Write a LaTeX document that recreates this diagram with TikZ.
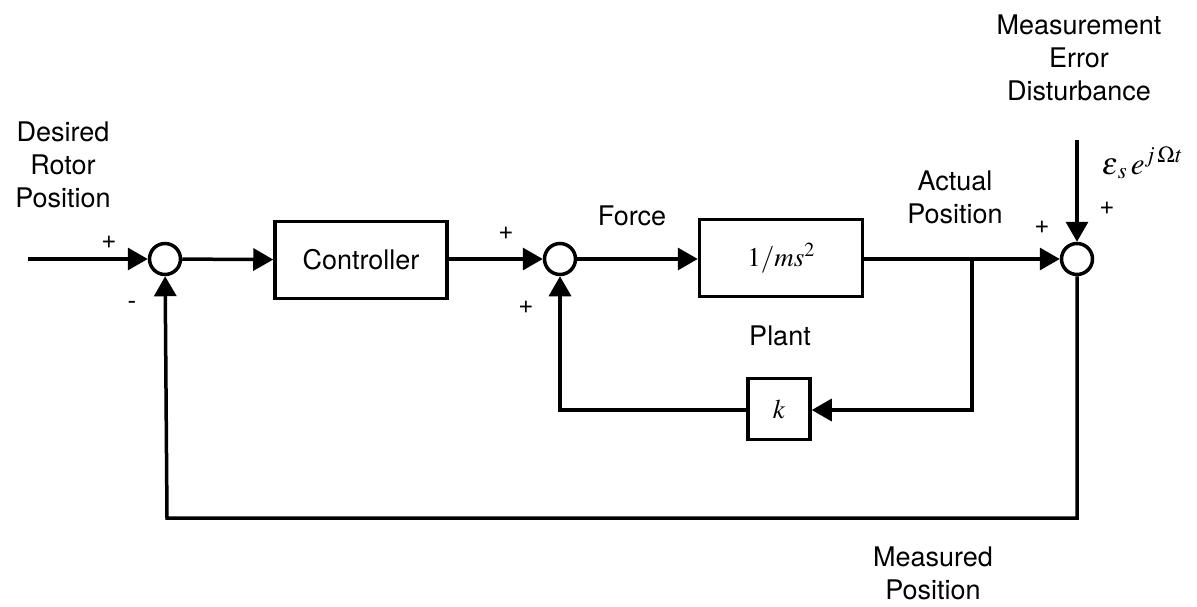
\documentclass[tikz,border=0pt]{standalone}
\usepackage{mathptmx}
\usepackage{fontspec}
\setmainfont{TeX Gyre Heros}
\usetikzlibrary{arrows.meta}
\begin{document}
\begin{tikzpicture}[x=1pt,y=-1pt,
  line width=3.5pt,
  lbl/.style={font=\fontsize{27}{33}\selectfont, align=center, inner sep=0pt},
  blk/.style={draw, line width=3.5pt, inner sep=0pt, font=\fontsize{27}{33}\selectfont},
  sumnode/.style={draw, circle, minimum size=31pt, inner sep=0pt, line width=3.5pt},
  arr/.style={-{Triangle[length=20pt,width=22pt]}},
  sgn/.style={font=\fontsize{26}{26}\selectfont, inner sep=0pt}]
\useasboundingbox (0,0) rectangle (1197,606);

% nodes
\coordinate (in) at (28,259);
\node[sumnode] (s1) at (165,259) {};
\node[blk, minimum width=172pt, minimum height=77pt] (ctrl) at (361,260) {Controller};
\node[sumnode] (s2) at (560,259) {};
\node[blk, minimum width=163pt, minimum height=77pt] (plant) at (781,258) {$1/ms^2$};
\node[sumnode] (s3) at (1077,259) {};
\node[blk, minimum width=62pt, minimum height=61pt] (k) at (779,409) {$k$};
\coordinate (br) at (972,259);
\coordinate (dist) at (1077,140);
\coordinate (fbr) at (1077,518);
\coordinate (fbl) at (167,518);
\coordinate (kl) at (560,410);

% connectors
\draw[arr] (in) -- (s1);
\draw[arr] (s1) -- (ctrl);
\draw[arr] (ctrl.east |- s2) -- (s2);
\draw[arr] (s2) -- (plant.west |- s2);
\draw[arr] (plant.east |- s3) -- (s3);
\draw[arr] (br) |- (k.east |- kl);
\draw[arr] (k.west |- kl) -- (kl) -- (s2);
\draw[arr] (dist) -- (s3);
\draw[arr] (s3) -- (fbr) -- (fbl) -- (s1);

% labels
\node[lbl] (des) at (63,165) {Desired\\Rotor\\Position};
\node[lbl] (mea) at (1079,58) {Measurement\\Error\\Disturbance};
\node[lbl] (act) at (955,197) {Actual\\Position};
\node[lbl] (frc) at (632,216) {Force};
\node[lbl] (plt) at (780,336) {Plant};
\node[lbl] (mpos) at (933,573) {Measured\\Position};
\node[lbl, anchor=west, font=\fontsize{31}{33}\selectfont] (eps) at (1100,163) {$\varepsilon_{\,s}\,e^{j\,\Omega t}$};

% signs
\node[sgn] (p1) at (109,242) {+};
\node[sgn] (m1) at (132,305) {-};
\node[sgn] (p2) at (506,233) {+};
\node[sgn] (p3) at (526,307) {+};
\node[sgn] (p4) at (1042,227) {+};
\node[sgn] (p5) at (1107,208) {+};
\end{tikzpicture}
\end{document}
